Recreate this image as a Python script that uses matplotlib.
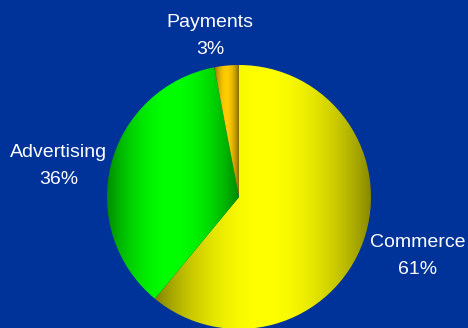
import numpy as np
import matplotlib
matplotlib.use("Agg")
import matplotlib.pyplot as plt

# Revenue split
labels = ["Commerce", "Advertising", "Payments"]
shares = [61, 36, 3]
base_colors = [(1.0, 1.0, 0.0), (0.0, 1.0, 0.0), (1.0, 0.8, 0.0)]

# label anchors (pixels from top-left), one per slice
label_x = [418, 59, 210]
label_y = [247, 157, 27]

W, H = 468, 328
bg = "#003399"

fig = plt.figure(figsize=(W / 100, H / 100), dpi=100, facecolor=bg)
ax = fig.add_axes([0, 0, 1, 1])
ax.set_facecolor(bg)

wedges, _ = ax.pie(shares, startangle=90, counterclock=False,
                   center=(239, H - 197), radius=132, frame=True,
                   wedgeprops=dict(linewidth=0))
ax.set_xlim(0, W)
ax.set_ylim(0, H)
ax.set_aspect("equal")
ax.axis("off")

# cylinder-style shading across each slice's own width
t = np.linspace(0, 1, 256)
shade = 0.5 + 0.5 * np.sin(np.pi * t) ** 0.8
for w, c in zip(wedges, base_colors):
    verts = w.get_patch_transform().transform(w.get_path().vertices)
    x0, x1 = verts[:, 0].min(), verts[:, 0].max()
    y0, y1 = verts[:, 1].min(), verts[:, 1].max()
    img = np.array(c)[None, None, :] * shade[None, :, None]
    w.set_facecolor("none")
    im = ax.imshow(img, extent=(x0, x1, y0, y1), aspect="auto",
                   interpolation="bilinear", zorder=2)
    im.set_clip_path(w)

for lab, pct, x, y in zip(labels, shares, label_x, label_y):
    ax.text(x, H - y, lab, ha="center", va="baseline", color="white",
            fontsize=14, family="Liberation Sans")
    ax.text(x, H - y - 27, f"{pct}%", ha="center", va="baseline",
            color="white", fontsize=14, family="Liberation Sans")

ax.set_xlim(0, W)
ax.set_ylim(0, H)
fig.savefig("out.png", dpi=100, facecolor=bg)
